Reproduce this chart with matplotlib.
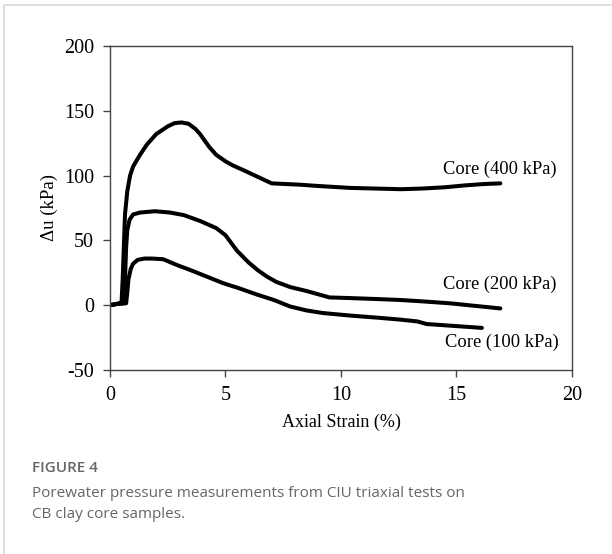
import matplotlib.pyplot as plt
from matplotlib.patches import Rectangle

plt.rcParams['axes.unicode_minus'] = False

# Core (400 kPa)
strain_400 = [0, 0.3, 0.5, 0.55, 0.6, 0.65, 0.75, 0.87, 1.0, 1.3, 1.6, 2.0, 2.5, 2.8, 3.1, 3.4,
              3.7, 3.9, 4.3, 4.6, 5.0, 5.3, 5.8, 6.4, 7.0, 8.2, 9.0, 10.4, 11.5, 12.6, 13.5,
              14.5, 15.4, 16.2, 16.9]
du_400 = [0, 1, 2, 20, 45, 70, 88, 100, 107, 116, 124, 132, 138, 140.5, 141, 140,
          136, 132, 122, 116, 111, 108, 104, 99, 94, 93, 92, 90.5, 90, 89.5, 90,
          91, 92.5, 93.5, 94]

# Core (200 kPa)
strain_200 = [0, 0.3, 0.6, 0.65, 0.7, 0.75, 0.85, 1.0, 1.3, 1.95, 2.6, 3.2, 3.9, 4.6, 5.0,
              5.5, 6.0, 6.4, 6.8, 7.2, 7.8, 8.5, 9.5, 10.4, 11.5, 12.6, 13.5, 14.7, 15.8, 16.9]
du_200 = [0, 1, 1.5, 20, 45, 58, 66, 70, 71.5, 72.5, 71.5, 69.5, 65, 59.5, 54,
          42, 33, 27, 22, 18, 14, 11, 6, 5.5, 4.8, 4, 3, 1.5, -0.5, -2.5]

# Core (100 kPa)
strain_100 = [0, 0.3, 0.7, 0.75, 0.8, 0.9, 1.0, 1.2, 1.5, 1.8, 2.3, 2.9, 3.5, 4.2, 4.9,
              5.6, 6.4, 7.1, 7.8, 8.5, 9.2, 10.4, 11.5, 12.5, 13.3, 13.7, 14.5, 15.3, 16.1]
du_100 = [0, 1, 1.5, 10, 20, 28, 32, 35, 36, 36, 35.5, 31, 27, 22, 17,
          13, 8, 4, -1, -4, -6, -8, -9.5, -11, -12.5, -14.5, -15.5, -16.5, -17.5]

labels = ['Core (400 kPa)', 'Core (200 kPa)', 'Core (100 kPa)']
label_pos = [(14.4, 105), (14.4, 16), (14.5, -29)]

serif = 'Liberation Serif'

fig = plt.figure(figsize=(6.12, 5.54), dpi=100)
ax = fig.add_axes([0.1797, 0.3321, 0.7549, 0.5849])

for sx, sy in [(strain_400, du_400), (strain_200, du_200), (strain_100, du_100)]:
    ax.plot(sx, sy, color='black', lw=2.9, solid_capstyle='round', solid_joinstyle='round')

for lab, (tx, ty) in zip(labels, label_pos):
    ax.text(tx, ty, lab, fontsize=13.3, family=serif, va='center', ha='left')

ax.set_xlim(0, 20)
ax.set_ylim(-50, 200)
ax.set_xticks([0, 5, 10, 15, 20])
ax.set_yticks([-50, 0, 50, 100, 150, 200])
ax.tick_params(direction='out', length=5, width=1, color='#444444', labelsize=14.5, pad=6.5)
for t in ax.get_xticklabels() + ax.get_yticklabels():
    t.set_family(serif)
for s in ax.spines.values():
    s.set_color('#444444')
    s.set_linewidth(1)
ax.set_xlabel('Axial Strain (%)', fontsize=13, family=serif, labelpad=6)
ax.set_ylabel('Δu (kPa)', fontsize=13.5, family=serif, labelpad=4)

# outer frame of the figure panel
fig.patches.append(Rectangle((4 / 612, -0.1), 1.2, 1.1 - 5 / 554,
                             transform=fig.transFigure, fill=False,
                             edgecolor='#d9d9d9', lw=1.2))

fig.text(32 / 612, 1 - 468 / 554, 'FIGURE 4', fontsize=11, family='Open Sans',
         weight='semibold', color='#666666', va='center')
fig.text(32 / 612, 1 - 504 / 554,
         'Porewater pressure measurements from CIU triaxial tests on\nCB clay core samples.',
         fontsize=11, family='Open Sans', color='#666666', va='center', linespacing=1.6)

fig.savefig('out.png', dpi=100)
